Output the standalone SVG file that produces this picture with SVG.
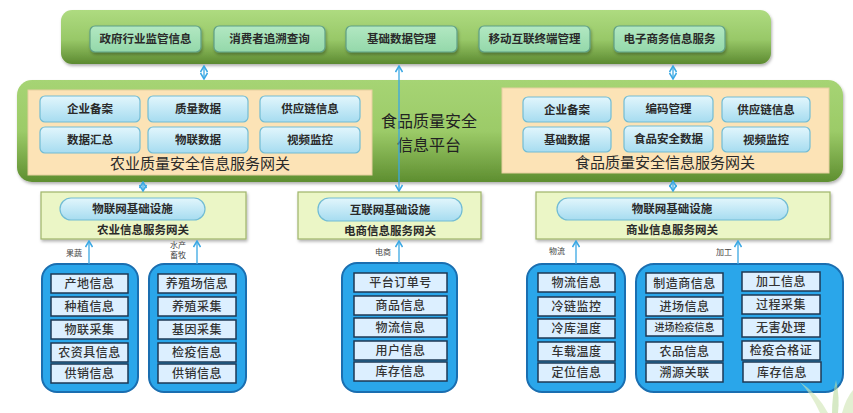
<svg xmlns="http://www.w3.org/2000/svg" width="853" height="413" viewBox="0 0 853 413">
<defs>
<linearGradient id="gTop" x1="0" y1="0" x2="0" y2="1">
<stop offset="0" stop-color="#aedb80"/><stop offset="0.55" stop-color="#98c868"/><stop offset="1" stop-color="#5c8a30"/>
</linearGradient>
<linearGradient id="gMid" x1="0" y1="0" x2="0" y2="1">
<stop offset="0" stop-color="#a6d474"/><stop offset="0.5" stop-color="#9ccb68"/><stop offset="1" stop-color="#5e8e30"/>
</linearGradient>
<linearGradient id="gMint" x1="0" y1="0" x2="0" y2="1">
<stop offset="0" stop-color="#b2e8c2"/><stop offset="1" stop-color="#94d8aa"/>
</linearGradient>
<linearGradient id="gBtn" x1="0" y1="0" x2="0" y2="1">
<stop offset="0" stop-color="#e2f6fc"/><stop offset="1" stop-color="#a6dcf0"/>
</linearGradient>
<filter id="sh" x="-10%" y="-20%" width="120%" height="150%">
<feDropShadow dx="1" dy="2" stdDeviation="1.5" flood-color="#000" flood-opacity="0.3"/>
</filter>
<marker id="ah" viewBox="0 0 8 8" refX="7" refY="4" markerWidth="8" markerHeight="8" markerUnits="userSpaceOnUse" orient="auto-start-reverse">
<path d="M1,0.5 L7,4 L1,7.5" fill="none" stroke="#3aa8e4" stroke-width="1.5"/>
</marker>
<style>
.t{font-family:"Noto Sans CJK SC","Noto Sans",sans-serif;fill:#2a2a2a;text-anchor:middle}
.tb{font-size:11.5px;font-weight:bold}
.mint{fill:url(#gMint);stroke:#5f9f86;stroke-width:1.2}
.btn{fill:url(#gBtn);stroke:#72bcd4;stroke-width:1.2}
.panel{fill:#fce3b6;stroke:#e6cfa0;stroke-width:1}
.gw{fill:#ebf6c6;stroke:#9fb56a;stroke-width:1.2}
.cont{fill:#2aa6ea;stroke:#1a6eb0;stroke-width:2}
.it{fill:#dcefff;stroke:#1e3854;stroke-width:1.5}
.itx{font-size:12px;font-weight:500;fill:#333;letter-spacing:0.5px}
.sm{font-size:10px;letter-spacing:0}
.lbl{font-size:8px;fill:#444}
.ttl{font-size:16px;fill:#222}
.cn{fill:none;stroke:#3aa8e4;stroke-width:1.3}
</style>
</defs>
<rect width="853" height="413" fill="#ffffff"/>

<g id="top-bar">
<rect x="61" y="10" width="710" height="54" rx="11" fill="url(#gTop)" filter="url(#sh)"/>
<rect class="mint" x="90" y="26" width="111" height="26" rx="5" filter="url(#sh)"/>
<text class="t tb" x="145.5" y="43">政府行业监管信息</text>
<rect class="mint" x="214" y="26" width="111" height="26" rx="5" filter="url(#sh)"/>
<text class="t tb" x="269.5" y="43">消费者追溯查询</text>
<rect class="mint" x="346" y="26" width="111" height="26" rx="5" filter="url(#sh)"/>
<text class="t tb" x="401.5" y="43">基础数据管理</text>
<rect class="mint" x="479" y="26" width="111" height="26" rx="5" filter="url(#sh)"/>
<text class="t tb" x="534.5" y="43">移动互联终端管理</text>
<rect class="mint" x="614" y="26" width="111" height="26" rx="5" filter="url(#sh)"/>
<text class="t tb" x="669.5" y="43">电子商务信息服务</text>
</g>

<g id="platform">
<rect x="17" y="80" width="826" height="102" rx="15" fill="url(#gMid)" filter="url(#sh)"/>
<text class="t ttl" x="429" y="127">食品质量安全</text>
<text class="t ttl" x="429" y="150.5">信息平台</text>
</g>

<g id="agri-gateway-panel">
<rect class="panel" x="28" y="90" width="344" height="85"/>
<rect class="btn" x="40" y="96" width="100" height="26" rx="5"/>
<text class="t tb" x="90" y="113">企业备案</text>
<rect class="btn" x="148" y="96" width="100" height="26" rx="5"/>
<text class="t tb" x="198" y="113">质量数据</text>
<rect class="btn" x="260" y="96" width="100" height="26" rx="5"/>
<text class="t tb" x="310" y="113">供应链信息</text>
<rect class="btn" x="40" y="127" width="100" height="26" rx="5"/>
<text class="t tb" x="90" y="144">数据汇总</text>
<rect class="btn" x="148" y="127" width="100" height="26" rx="5"/>
<text class="t tb" x="198" y="144">物联数据</text>
<rect class="btn" x="260" y="127" width="100" height="26" rx="5"/>
<text class="t tb" x="310" y="144">视频监控</text>
<text class="t" x="200" y="169" font-size="15" fill="#222">农业质量安全信息服务网关</text>
</g>

<g id="food-gateway-panel">
<rect class="panel" x="502" y="88" width="327" height="85"/>
<rect class="btn" x="523" y="97" width="88" height="25" rx="5"/>
<text class="t tb" x="567" y="113.5">企业备案</text>
<rect class="btn" x="624" y="96" width="89" height="26" rx="5"/>
<text class="t tb" x="668.5" y="113">编码管理</text>
<rect class="btn" x="722" y="97" width="88" height="25" rx="5"/>
<text class="t tb" x="766" y="113.5">供应链信息</text>
<rect class="btn" x="523" y="127" width="88" height="25" rx="5"/>
<text class="t tb" x="567" y="143.5">基础数据</text>
<rect class="btn" x="624" y="126" width="89" height="26" rx="5"/>
<text class="t tb" x="668.5" y="143">食品安全数据</text>
<rect class="btn" x="722" y="127" width="88" height="25" rx="5"/>
<text class="t tb" x="766" y="143.5">视频监控</text>
<text class="t" x="665" y="168" font-size="15" fill="#222">食品质量安全信息服务网关</text>
</g>

<g id="agri-info-gateway">
<rect class="gw" x="41" y="192" width="205" height="47" filter="url(#sh)"/>
<rect class="btn" x="60" y="198" width="145" height="22" rx="11"/>
<text class="t tb" x="132.5" y="213">物联网基础设施</text>
<text class="t tb" x="143" y="234">农业信息服务网关</text>
</g>

<g id="ecom-info-gateway">
<rect class="gw" x="298" y="192" width="183" height="47" filter="url(#sh)"/>
<rect class="btn" x="318" y="198" width="144" height="23" rx="11"/>
<text class="t tb" x="390" y="214">互联网基础设施</text>
<text class="t tb" x="390" y="235">电商信息服务网关</text>
</g>

<g id="biz-info-gateway">
<rect class="gw" x="536" y="192" width="294" height="47" filter="url(#sh)"/>
<rect class="btn" x="557" y="198" width="231" height="22" rx="11"/>
<text class="t tb" x="672" y="213">物联网基础设施</text>
<text class="t tb" x="672" y="234">商业信息服务网关</text>
</g>

<g id="fruit-veg">
<rect class="cont" x="42" y="264" width="96" height="128" rx="15"/>
<rect class="it" x="51" y="274" width="77" height="19"/><text class="t itx" x="89.5" y="288">产地信息</text>
<rect class="it" x="51" y="297" width="77" height="19"/><text class="t itx" x="89.5" y="311">种植信息</text>
<rect class="it" x="51" y="320" width="77" height="19"/><text class="t itx" x="89.5" y="334">物联采集</text>
<rect class="it" x="51" y="343" width="77" height="19"/><text class="t itx" x="89.5" y="357">农资具信息</text>
<rect class="it" x="51" y="364" width="77" height="19"/><text class="t itx" x="89.5" y="378">供销信息</text>
</g>

<g id="aqua-livestock">
<rect class="cont" x="149" y="264" width="97" height="128" rx="15"/>
<rect class="it" x="158" y="274" width="78" height="19"/><text class="t itx" x="197" y="288">养殖场信息</text>
<rect class="it" x="158" y="297" width="78" height="19"/><text class="t itx" x="197" y="311">养殖采集</text>
<rect class="it" x="158" y="320" width="78" height="19"/><text class="t itx" x="197" y="334">基因采集</text>
<rect class="it" x="158" y="343" width="78" height="19"/><text class="t itx" x="197" y="357">检疫信息</text>
<rect class="it" x="158" y="364" width="78" height="19"/><text class="t itx" x="197" y="378">供销信息</text>
</g>

<g id="ecommerce">
<rect class="cont" x="342" y="263" width="115" height="129" rx="15"/>
<rect class="it" x="354" y="273" width="93" height="19"/><text class="t itx" x="400.5" y="287">平台订单号</text>
<rect class="it" x="354" y="296" width="93" height="19"/><text class="t itx" x="400.5" y="310">商品信息</text>
<rect class="it" x="354" y="318" width="93" height="19"/><text class="t itx" x="400.5" y="332">物流信息</text>
<rect class="it" x="354" y="341" width="93" height="19"/><text class="t itx" x="400.5" y="355">用户信息</text>
<rect class="it" x="354" y="362" width="93" height="19"/><text class="t itx" x="400.5" y="376">库存信息</text>
</g>

<g id="logistics">
<rect class="cont" x="527" y="264" width="98" height="128" rx="15"/>
<rect class="it" x="538" y="273" width="77" height="19"/><text class="t itx" x="576.5" y="287">物流信息</text>
<rect class="it" x="538" y="297" width="77" height="19"/><text class="t itx" x="576.5" y="311">冷链监控</text>
<rect class="it" x="538" y="319" width="77" height="19"/><text class="t itx" x="576.5" y="333">冷库温度</text>
<rect class="it" x="538" y="342" width="77" height="19"/><text class="t itx" x="576.5" y="356">车载温度</text>
<rect class="it" x="538" y="363" width="77" height="19"/><text class="t itx" x="576.5" y="377">定位信息</text>
</g>

<g id="processing">
<rect class="cont" x="636" y="264" width="207" height="128" rx="18"/>
<rect class="it" x="646" y="273" width="77" height="20"/><text class="t itx" x="684.5" y="287.5">制造商信息</text>
<rect class="it" x="646" y="297" width="77" height="19"/><text class="t itx" x="684.5" y="311">进场信息</text>
<rect class="it" x="646" y="319" width="77" height="17"/><text class="t itx sm" x="684.5" y="331">进场检疫信息</text>
<rect class="it" x="646" y="342" width="77" height="19"/><text class="t itx" x="684.5" y="356">农品信息</text>
<rect class="it" x="646" y="363" width="77" height="19"/><text class="t itx" x="684.5" y="377">溯源关联</text>
<rect class="it" x="742" y="272" width="78" height="19"/><text class="t itx" x="781" y="286">加工信息</text>
<rect class="it" x="742" y="295" width="78" height="19"/><text class="t itx" x="781" y="309">过程采集</text>
<rect class="it" x="742" y="318" width="78" height="19"/><text class="t itx" x="781" y="332">无害处理</text>
<rect class="it" x="742" y="341" width="78" height="19"/><text class="t itx" x="781" y="355">检疫合格证</text>
<rect class="it" x="743" y="362" width="78" height="20"/><text class="t itx" x="782" y="376.5">库存信息</text>
</g>

<g id="connectors">
<line class="cn" x1="204" y1="66" x2="204" y2="79" marker-start="url(#ah)" marker-end="url(#ah)"/>
<line class="cn" x1="673" y1="66" x2="673" y2="79" marker-start="url(#ah)" marker-end="url(#ah)"/>
<line class="cn" x1="399" y1="66" x2="399" y2="191" marker-start="url(#ah)" marker-end="url(#ah)"/>
<line class="cn" x1="143" y1="182" x2="143" y2="191" marker-start="url(#ah)" marker-end="url(#ah)"/>
<line class="cn" x1="673" y1="181" x2="673" y2="191" marker-start="url(#ah)" marker-end="url(#ah)"/>
<line class="cn" x1="89" y1="264" x2="89" y2="241" marker-end="url(#ah)"/>
<line class="cn" x1="197" y1="264" x2="197" y2="241" marker-end="url(#ah)"/>
<line class="cn" x1="399" y1="263" x2="399" y2="241" marker-end="url(#ah)"/>
<line class="cn" x1="576" y1="264" x2="576" y2="241" marker-end="url(#ah)"/>
<line class="cn" x1="738" y1="264" x2="738" y2="241" marker-end="url(#ah)"/>
<text class="t lbl" x="74" y="256">果蔬</text>
<text class="t lbl" x="178" y="248">水产</text>
<text class="t lbl" x="178" y="258">畜牧</text>
<text class="t lbl" x="383" y="255">电商</text>
<text class="t lbl" x="557" y="254">物流</text>
<text class="t lbl" x="724" y="255">加工</text>
</g>

<g id="decoration" opacity="0.6">
<path d="M820,413 Q812,395 800,382 Q818,394 828,413 Z" fill="#cfe6b4"/>
<path d="M832,413 Q832,396 836,380 Q840,398 838,413 Z" fill="#bcdca0"/>
<path d="M842,413 Q846,398 853,390 L853,413 Z" fill="#cfe6b4"/>
</g>
</svg>
